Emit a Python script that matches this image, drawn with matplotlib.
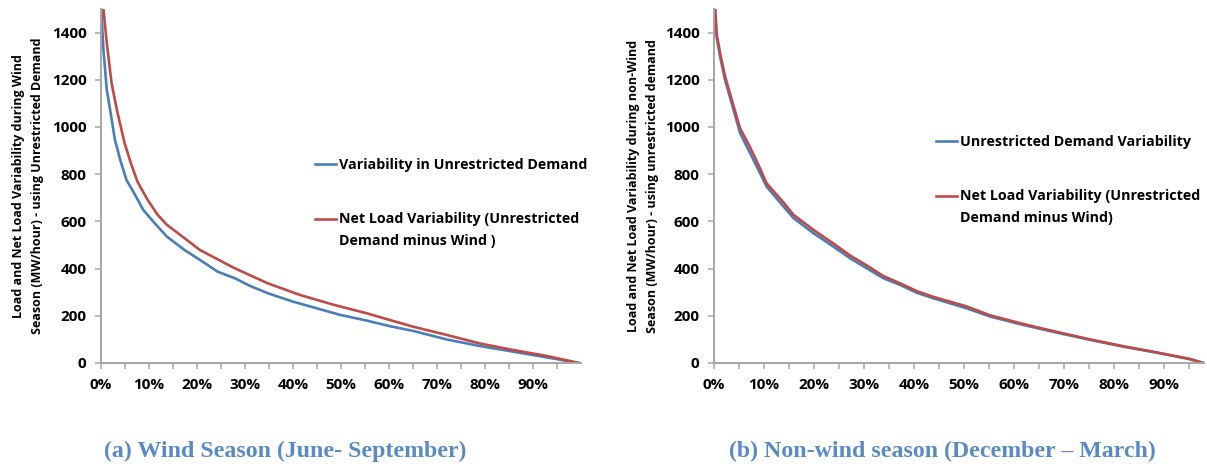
import numpy as np
import matplotlib.pyplot as plt
from matplotlib.ticker import FixedLocator, FuncFormatter
from matplotlib.legend_handler import HandlerLine2D

# duration curves of hourly variability (share of hours vs MW/hour)
wind_demand_x = [0, 0.005, 0.012, 0.019, 0.029, 0.04, 0.053, 0.067, 0.088, 0.109, 0.137,
                 0.174, 0.206, 0.243, 0.278, 0.31, 0.347, 0.40, 0.449, 0.498, 0.553,
                 0.602, 0.65, 0.72, 0.789, 0.859, 0.928, 0.996]
wind_demand_y = [1520, 1330, 1158, 1073, 946, 861, 776, 727, 649, 599, 536,
                 479, 437, 387, 360, 327, 296, 260, 232, 204, 180,
                 156, 136, 100, 72, 48, 24, 0]

wind_net_x = [0, 0.005, 0.012, 0.022, 0.033, 0.049, 0.062, 0.076, 0.097, 0.118, 0.137,
              0.174, 0.206, 0.278, 0.347, 0.415, 0.486, 0.553, 0.602, 0.65,
              0.72, 0.789, 0.859, 0.928, 0.996]
wind_net_y = [1700, 1500, 1357, 1187, 1073, 933, 848, 768, 692, 628, 586,
              529, 479, 402, 338, 288, 246, 211, 182, 154,
              119, 83, 55, 30, 0]

calm_demand_x = [0, 0.002, 0.005, 0.012, 0.022, 0.039, 0.052, 0.072, 0.092, 0.105, 0.139,
                 0.159, 0.199, 0.239, 0.272, 0.305, 0.339, 0.372, 0.405, 0.439, 0.505,
                 0.552, 0.619, 0.685, 0.752, 0.819, 0.885, 0.952, 0.979]
calm_demand_y = [1600, 1498, 1384, 1300, 1200, 1073, 975, 890, 805, 748, 663,
                 614, 550, 493, 444, 402, 359, 331, 298, 274, 232,
                 197, 161, 129, 98, 69, 44, 16, 0]

calm_net_x = [0, 0.002, 0.005, 0.012, 0.022, 0.039, 0.052, 0.072, 0.092, 0.105, 0.139,
              0.159, 0.199, 0.239, 0.272, 0.305, 0.339, 0.372, 0.405, 0.439, 0.505,
              0.552, 0.619, 0.685, 0.752, 0.819, 0.885, 0.952, 0.979]
calm_net_y = [1650, 1520, 1400, 1315, 1215, 1090, 995, 915, 825, 762, 680,
              628, 564, 506, 456, 414, 368, 338, 305, 280, 240,
              202, 165, 132, 100, 71, 45, 17, 0]

y_ticks = [0, 200, 400, 600, 800, 1000, 1200, 1400]
x_major = [0, 0.1, 0.2, 0.3, 0.4, 0.5, 0.6, 0.7, 0.8, 0.9]
x_minor = [0.05, 0.15, 0.25, 0.35, 0.45, 0.55, 0.65, 0.75, 0.85, 0.95]

BLUE = '#4A7EBB'
RED = '#BE4B48'
AXIS = '#A6A6A6'
LEG_SIZE = 10.3

plt.rcParams['font.family'] = ['Open Sans', 'DejaVu Sans']
plt.rcParams['font.weight'] = 'bold'

fig = plt.figure(figsize=(12.07, 4.66), dpi=100)
W, H = 1207, 466


class FirstLineHandler(HandlerLine2D):
    """Puts the legend line next to the first row of a two-row label."""

    def __init__(self, shift, **kw):
        super().__init__(**kw)
        self.shift = shift

    def create_artists(self, legend, orig_handle, xdescent, ydescent, width, height,
                       fontsize, trans):
        arts = super().create_artists(legend, orig_handle, xdescent, ydescent, width,
                                      height, fontsize, trans)
        for a in arts:
            a.set_ydata(np.asarray(a.get_ydata()) + self.shift)
        return arts


def px_axes(x0, x1, ytop, ybot):
    return fig.add_axes([x0 / W, (H - ybot) / H, (x1 - x0) / W, (ybot - ytop) / H])


def style(ax, xmax):
    ax.set_xlim(0, xmax)
    ax.set_ylim(0, 1500)
    for s in ['top', 'right']:
        ax.spines[s].set_visible(False)
    for s in ['left', 'bottom']:
        ax.spines[s].set_color(AXIS)
        ax.spines[s].set_linewidth(1.4)
    ax.yaxis.set_major_locator(FixedLocator(y_ticks))
    ax.xaxis.set_major_locator(FixedLocator(x_major))
    ax.xaxis.set_minor_locator(FixedLocator(x_minor))
    ax.xaxis.set_major_formatter(FuncFormatter(lambda v, p: f'{v * 100:.0f}%'))
    ax.tick_params(which='both', direction='out', length=4.5, width=1.1, color=AXIS,
                   labelsize=11, pad=6)
    for lab in ax.get_xticklabels() + ax.get_yticklabels():
        lab.set_fontweight('bold')


def add_legend(ax, handles, labels, x, y):
    leg = ax.legend(handles, labels, loc='upper left', bbox_to_anchor=(x / W, 1 - y / H),
                    bbox_transform=fig.transFigure, frameon=False,
                    handlelength=1.5, handletextpad=0.2, labelspacing=2.8, borderpad=0,
                    borderaxespad=0, prop={'weight': 'bold', 'size': LEG_SIZE},
                    handler_map={handles[1]: FirstLineHandler(8.3)})
    for t in leg.get_texts():
        t.set_linespacing(1.7)
    return leg


# (a) wind season
ax1 = px_axes(101, 581, 9, 363)
l1, = ax1.plot(wind_demand_x, wind_demand_y, color=BLUE, lw=1.9)
l2, = ax1.plot(wind_net_x, wind_net_y, color=RED, lw=1.9)
style(ax1, 1.0)
ax1.set_ylabel('Load and Net Load Variability during Wind\n'
               'Season (MW/hour) - using Unrestricted Demand',
               fontsize=9.0, fontweight='bold', linespacing=1.6, labelpad=5.5)
add_legend(ax1, [l1, l2], ['Variability in Unrestricted Demand',
                           'Net Load Variability (Unrestricted\nDemand minus Wind )'],
           315, 158)

# (b) non-wind season
ax2 = px_axes(714, 1204, 9, 363)
l3, = ax2.plot(calm_demand_x, calm_demand_y, color=BLUE, lw=1.9)
l4, = ax2.plot(calm_net_x, calm_net_y, color=RED, lw=1.9)
style(ax2, 0.98)
ax2.set_ylabel('Load and Net Load Variability during non-Wind\n'
               'Season (MW/hour) - using unrestricted demand',
               fontsize=9.0, fontweight='bold', linespacing=1.6, labelpad=4)
add_legend(ax2, [l3, l4], ['Unrestricted Demand Variability',
                           'Net Load Variability (Unrestricted\nDemand minus Wind)'],
           936, 135)

cap = dict(family='Liberation Serif', fontweight='bold', fontsize=17.2,
           color='#5A8AC6', ha='center', va='center')
fig.text(285 / W, 1 - 451 / H, '(a) Wind Season (June- September)', **cap)
fig.text(942 / W, 1 - 451 / H, '(b) Non-wind season (December \u2013 March)', **cap)

fig.savefig('out.png', dpi=100)
